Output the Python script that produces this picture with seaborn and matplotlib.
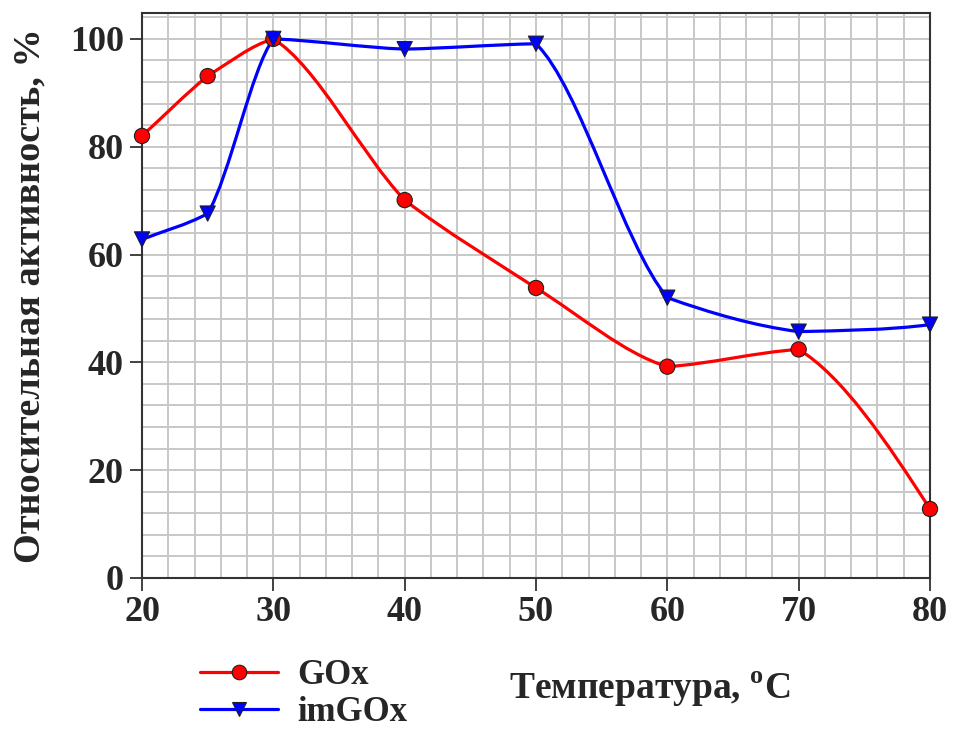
import numpy as np
import pandas as pd
import matplotlib
matplotlib.use("Agg")
import matplotlib.pyplot as plt
from matplotlib.path import Path
from matplotlib.patches import PathPatch
from matplotlib.lines import Line2D
from matplotlib.ticker import MultipleLocator
import seaborn as sns

# ---- data ----
temperature = [20, 25, 30, 40, 50, 60, 70, 80]
gox = [82.0, 93.1, 100.0, 70.1, 53.8, 39.2, 42.4, 12.8]
imgox = [62.8, 67.6, 100.0, 98.1, 99.1, 52.0, 45.7, 47.0]
series_names = ["GOx", "imGOx"]
x_ticks = [20, 30, 40, 50, 60, 70, 80]
y_ticks = [0, 20, 40, 60, 80, 100]
x_label = "Температура, $^{\\mathbf{o}}$C"
y_label = "Относительная активность, %"

sns.set_theme(style="white")
plt.rcParams["font.family"] = ["Liberation Serif", "DejaVu Serif"]
plt.rcParams["font.weight"] = "bold"
plt.rcParams["mathtext.fontset"] = "custom"
plt.rcParams["mathtext.bf"] = "Liberation Serif:bold"
plt.rcParams["mathtext.rm"] = "Liberation Serif:bold"

fig = plt.figure(figsize=(9.54, 7.35), dpi=100)
ax = fig.add_axes([142 / 954, 1 - 578 / 735, (930 - 142) / 954, (578 - 13) / 735])


def smooth_path(x, y, w=0.5):
    """Shape-preserving cubic Hermite curve drawn as Bezier segments."""
    x = np.asarray(x, float)
    y = np.asarray(y, float)
    h = np.diff(x)
    d = np.diff(y) / h
    n = len(x)
    m = np.zeros(n)
    for k in range(1, n - 1):
        if d[k - 1] * d[k] > 0:
            w1 = 2 * h[k] + h[k - 1]
            w2 = h[k] + 2 * h[k - 1]
            m[k] = (w1 + w2) / (w1 / d[k - 1] + w2 / d[k])
    m[0] = d[0]
    m[-1] = ((2 * h[-1] + h[-2]) * d[-1] - h[-1] * d[-2]) / (h[-1] + h[-2])
    verts = [(x[0], y[0])]
    codes = [Path.MOVETO]
    for i in range(n - 1):
        t0 = (1 - w) * m[i] + w * d[i]
        t1 = (1 - w) * m[i + 1] + w * d[i]
        verts += [(x[i] + h[i] / 3, y[i] + t0 * h[i] / 3),
                  (x[i + 1] - h[i] / 3, y[i + 1] - t1 * h[i] / 3),
                  (x[i + 1], y[i + 1])]
        codes += [Path.CURVE4] * 3
    return Path(verts, codes)


df = pd.DataFrame({
    "T": temperature * 2,
    "A": gox + imgox,
    "series": [series_names[0]] * len(temperature) + [series_names[1]] * len(temperature),
})

colors = {"GOx": "#ff0000", "imGOx": "#0000ff"}
markers = {"GOx": "o", "imGOx": "v"}

for name, vals in zip(series_names, [gox, imgox]):
    ax.add_patch(PathPatch(smooth_path(temperature, vals), fill=False,
                           edgecolor=colors[name], lw=2.3, zorder=3,
                           capstyle="round", joinstyle="round"))

sns.scatterplot(data=df, x="T", y="A", hue="series", style="series",
                palette=colors, markers=markers, s=120, edgecolor="#202020",
                linewidth=0.8, ax=ax, legend=False, zorder=4, clip_on=False)

ax.set_xlim(20, 80)
ax.set_ylim(0, 104.8)
ax.set_xticks(x_ticks)
ax.set_yticks(y_ticks)
ax.xaxis.set_minor_locator(MultipleLocator(2))
ax.yaxis.set_minor_locator(MultipleLocator(4))
ax.grid(which="both", color="#c8c8c8", lw=1.4, zorder=0)
ax.set_axisbelow(True)
ax.tick_params(which="major", direction="out", length=9, width=1.3,
               color="#333333", labelsize=26, pad=4, bottom=True, left=True)
ax.tick_params(which="minor", length=0)
for lab in ax.get_xticklabels() + ax.get_yticklabels():
    lab.set_fontweight("bold")
for sp in ax.spines.values():
    sp.set_color("#333333")
    sp.set_linewidth(1.5)
ax.set_xlabel("")
ax.set_ylabel("")

fig.text(30 / 954, 1 - 296 / 735, y_label, rotation=90, ha="center", va="center",
         fontsize=27.5, fontweight="bold")
fig.text(650 / 954, 1 - 689 / 735, x_label, ha="center", va="center",
         fontsize=27, fontweight="bold")

handles = [Line2D([], [], color=colors[n], lw=2.3, marker=markers[n], markersize=10.5,
                  markeredgecolor="#202020", markeredgewidth=0.8) for n in series_names]
fig.legend(handles, series_names, loc="upper left",
           bbox_to_anchor=(200 / 954, 1 - 659 / 735), frameon=False,
           prop={"family": "Liberation Serif", "weight": "bold", "size": 25},
           handlelength=2.25, handletextpad=0.55, labelspacing=0.12,
           borderpad=0, borderaxespad=0)

fig.savefig("out.png", dpi=100)
